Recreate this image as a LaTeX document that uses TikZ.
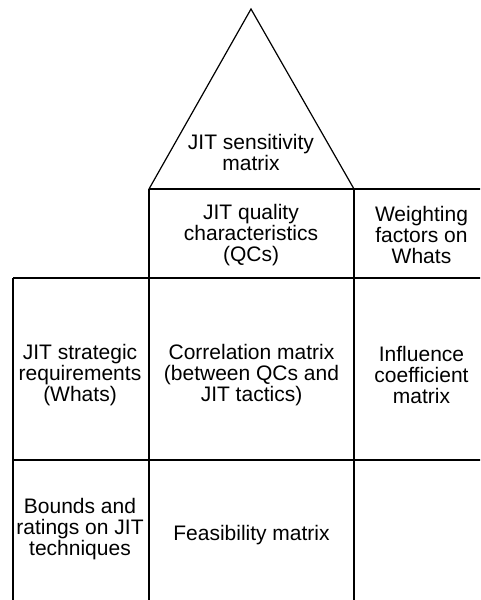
\documentclass[tikz,border=0pt]{standalone}
\usepackage{fontspec}
\setmainfont{Liberation Sans}
\begin{document}
\begin{tikzpicture}[x=1pt,y=-1pt,
  edge/.style={draw=black,line width=1.2pt,line join=miter},
  lbl/.style={align=center,inner sep=0pt,font=\fontsize{21}{21}\selectfont}]
\useasboundingbox (0,0) rectangle (480,600);
\clip (0,0) rectangle (480,600);
% roof
\coordinate (apex) at (251,9);
\coordinate (bl) at (149,189);
\coordinate (br) at (354,189);
\draw[edge] (bl) -- (apex) -- (br);
% grid lines
\draw[edge] (149,189) -- (481,189);
\draw[edge] (13,278) -- (481,278);
\draw[edge] (13,460) -- (481,460);
\draw[edge] (13,278) -- (13,601);
\draw[edge] (149,189) -- (149,601);
\draw[edge] (354,189) -- (354,601);
% labels
\node[lbl] (sens) at (251,152) {JIT sensitivity\\matrix};
\node[lbl] (qc) at (251,235) {JIT quality\\characteristics\\(QCs)};
\node[lbl] (wf) at (421.5,235) {Weighting\\factors on\\Whats};
\node[lbl] (req) at (80,375) {JIT strategic\\requirements\\(Whats)};
\node[lbl] (corr) at (251.5,375) {Correlation matrix\\(between QCs and\\JIT tactics)};
\node[lbl] (infl) at (421.5,375) {Influence\\coefficient\\matrix};
\node[lbl] (bnd) at (80,529) {Bounds and\\ratings on JIT\\techniques};
\node[lbl] (feas) at (251.5,535) {Feasibility matrix};
\end{tikzpicture}
\end{document}
